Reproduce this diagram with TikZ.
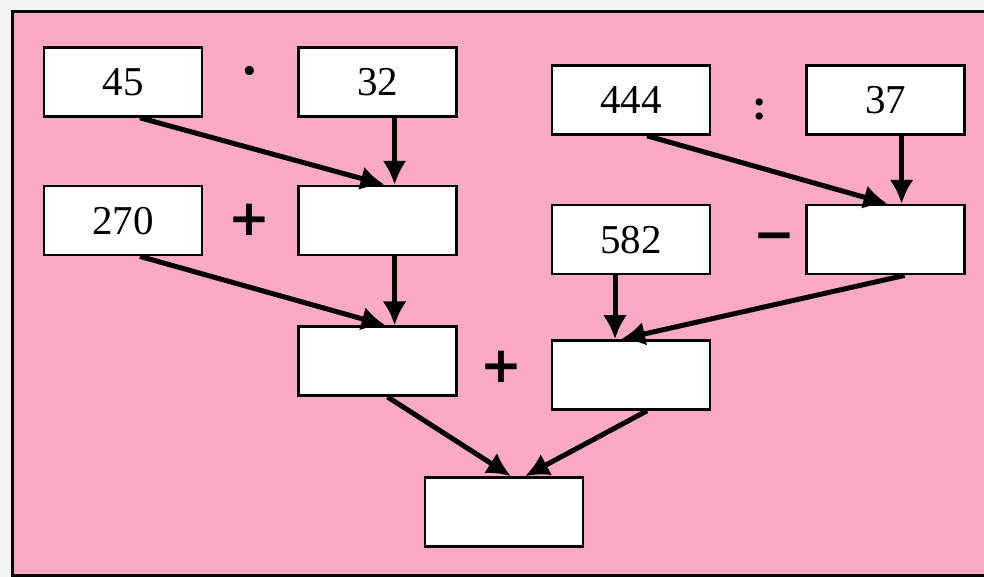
\documentclass[tikz,border=0pt]{standalone}
\usepackage{fontspec}
\setmainfont{Liberation Serif}
\newfontfamily\signfont{DejaVu Sans}
\usetikzlibrary{positioning,calc,arrows.meta}
\definecolor{pinkbg}{RGB}{250,170,198}
\definecolor{paper}{RGB}{244,244,242}

\begin{document}
\begin{tikzpicture}[x=1pt,y=-1pt,>={Latex[length=24pt,width=24pt]},node distance=0pt,
  numbox/.style={draw,fill=white,line width=2.6pt,minimum width=158pt,minimum height=69pt,
    inner sep=0pt,font=\fontsize{41}{44}\selectfont},
  opsign/.style={inner sep=0pt,font=\signfont\fontsize{50}{54}\selectfont\bfseries},
  link/.style={->,line width=5pt}]
% page and pink frame
\useasboundingbox (0,0) rectangle (984,577);
\fill[paper] (0,0) rectangle (984,577);
\draw[line width=3pt,fill=pinkbg] (12,12) rectangle (1000,575);

% left part: 45 . 32, then 270 + ...
\node[numbox] (n45) at (123,82) {45};
\node[numbox,right=94pt of n45] (n32) {32};
\node[numbox,below=67pt of n45] (n270) {270};
\node[numbox,below=67pt of n32] (prod) {};
\node[numbox,below=69pt of prod] (sum1) {};

% right part: 444 : 37, then 582 - ...
\node[numbox] (n444) at (631,100) {444};
\node[numbox,right=94pt of n444] (n37) {37};
\node[numbox,below=68pt of n444] (n582) {582};
\node[numbox,below=68pt of n37] (diff) {};
\node[numbox] (sum2) at (631,375) {};

% result
\node[numbox] (total) at (504,512) {};

% the signs
\node[opsign,font=\fontsize{56}{60}\selectfont\bfseries] (tmul) at (250,78) {·};
\node[opsign,font=\fontsize{44}{48}\selectfont\bfseries] (tdiv) at (760,110) {:};
\node[opsign] (tadd1) at (249,220) {+};
\node[opsign] (tsub) at (774,242) {−};
\node[opsign] (tadd2) at (501,367) {+};

% the arrows
\draw[link] ($(n45.south)+(17,0)$) -- ($(prod.north)+(7,0)$);
\draw[link] ($(n32.south)+(17,0)$) -- ($(prod.north)+(17,0)$);
\draw[link] ($(n270.south)+(17,0)$) -- ($(sum1.north)+(8,0)$);
\draw[link] ($(prod.south)+(17,0)$) -- ($(sum1.north)+(17,0)$);
\draw[link] ($(n444.south)+(16,0)$) -- ($(diff.north)+(2,0)$);
\draw[link] ($(n37.south)+(16,0)$) -- ($(diff.north)+(16,0)$);
\draw[link] ($(n582.south)+(-16,0)$) -- ($(sum2.north)+(-16,0)$);
\draw[link] ($(diff.south)+(19,0)$) -- ($(sum2.north)+(-10,0)$);
\draw[link] ($(sum1.south)+(10,0)$) -- ($(total.north)+(7,0)$);
\draw[link] ($(sum2.south)+(16,0)$) -- ($(total.north)+(21,0)$);
\end{tikzpicture}
\end{document}
